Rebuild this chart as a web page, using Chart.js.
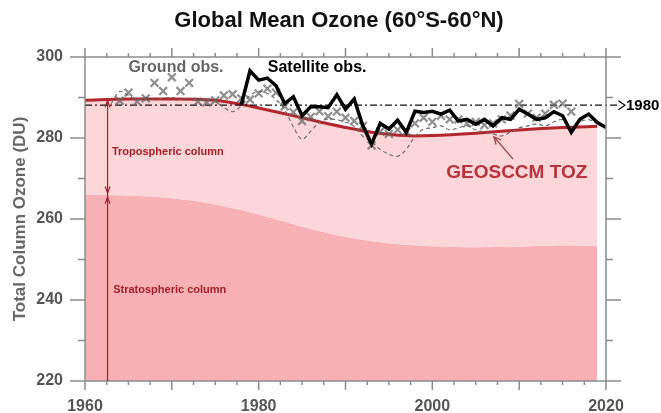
<!DOCTYPE html>
<html>
<head>
<meta charset="utf-8">
<script src="https://cdn.jsdelivr.net/npm/chart.js@4.4.1/dist/chart.umd.min.js"></script>
<style>
  html, body { margin: 0; padding: 0; background: #fff; }
  canvas { display: block; }
</style>
</head>
<body>
<canvas id="ozone" width="661" height="413"></canvas>
<script>
const FONT = "'Liberation Sans', Arial, Helvetica, sans-serif";
const AXIS = "#8c8c8c";

/* x / y tick labels */
const xTicks = [1960, 1980, 2000, 2020];
const yTicks = [220, 240, 260, 280, 300];

/* GEOSCCM model: stratospheric column and total column (TOZ) */
const modelYears = [1960, 1965, 1970, 1975, 1978, 1980, 1983, 1985, 1988, 1990, 1993, 1995, 1998, 2000, 2005, 2010, 2015, 2019];
const stratCol   = [266.0, 265.8, 265.1, 263.6, 262.2, 261.1, 259.3, 258.1, 256.5, 255.6, 254.5, 254.0, 253.5, 253.3, 253.0, 253.2, 253.5, 253.4];
const totalToz   = [289.3, 289.6, 289.6, 289.3, 288.3, 287.4, 286.0, 285.0, 283.5, 282.6, 281.4, 280.9, 280.5, 280.6, 281.2, 282.0, 282.6, 282.9];

/* 1980 reference level */
const ref1980 = 288.1;

/* satellite observations */
const satYears = [1978, 1979, 1980, 1981, 1982, 1983, 1984, 1985, 1986, 1987, 1988, 1989, 1990, 1991, 1992, 1993, 1994, 1995, 1996, 1997, 1998, 1999,
                  2000, 2001, 2002, 2003, 2004, 2005, 2006, 2007, 2008, 2009, 2010, 2011, 2012, 2013, 2014, 2015, 2016, 2017, 2018, 2019, 2020];
const satObs   = [288.2, 296.6, 294.3, 294.8, 292.9, 288.5, 290.2, 285.5, 287.7, 287.7, 287.5, 290.7, 287.1, 289.6, 283.0, 278.5, 283.6, 282.2, 284.4, 281.4, 286.6, 286.3,
                  286.6, 285.9, 286.9, 284.2, 284.6, 283.4, 284.6, 283.0, 285.0, 284.6, 287.1, 285.9, 284.6, 285.0, 286.5, 285.5, 281.4, 284.6, 285.9, 283.8, 282.6];

/* ground-based observations (x markers) */
const groundYears = [1964, 1965, 1966, 1967, 1968, 1969, 1970, 1971, 1972, 1973, 1974, 1975, 1976, 1977, 1978, 1979, 1980, 1981, 1982, 1983, 1984, 1985, 1986, 1987, 1988, 1989, 1990,
                     1991, 1992, 1993, 1994, 1995, 1996, 1997, 1998, 1999, 2000, 2001, 2002, 2003, 2004, 2005, 2006, 2007, 2008, 2009, 2010, 2011, 2012, 2013, 2014, 2015, 2016];
const groundObs   = [289.2, 291.2, 289.0, 289.8, 293.6, 291.6, 295.0, 291.6, 293.6, 289.0, 288.8, 289.3, 290.5, 290.8, 289.8, 289.5, 291.0, 292.2, 291.2, 287.8, 286.4, 284.2, 285.2, 286.6, 285.4, 286.5, 285.0,
                     284.2, 283.0, 278.2, 281.6, 281.0, 282.0, 281.6, 283.6, 285.0, 284.0, 285.5, 284.6, 284.6, 283.6, 284.0, 283.2, 283.6, 284.6, 285.5, 288.4, 286.0, 285.0, 286.0, 288.2, 288.5, 286.5];

/* dashed series */
const dashYears = [1963, 1964, 1965, 1966, 1967, 1968, 1969, 1970, 1971, 1972, 1973, 1974, 1975, 1976, 1977, 1978, 1979, 1980, 1981, 1982, 1983, 1984, 1985, 1986, 1987, 1988, 1989, 1990, 1991,
                   1992, 1993, 1994, 1995, 1996, 1997, 1998, 1999, 2000, 2001, 2002, 2003, 2004, 2005, 2006, 2007, 2008, 2009, 2010, 2011, 2012, 2013, 2014, 2015, 2016, 2017, 2018, 2019];
const dashVals  = [288.5, 291.5, 290.5, 289.5, 290.0, 289.5, 289.8, 290.0, 289.5, 289.8, 289.3, 289.6, 289.0, 287.5, 286.5, 288.0, 290.5, 291.5, 291.0, 289.5, 287.0, 282.7, 279.7, 281.7, 283.9, 284.7, 284.5, 283.9, 282.9,
                   280.4, 279.0, 277.2, 276.0, 275.5, 277.2, 280.4, 282.2, 282.5, 283.0, 282.0, 282.5, 283.0, 282.0, 281.5, 281.0, 280.5, 281.5, 282.5, 283.0, 283.5, 283.0, 284.0, 284.5, 282.5, 284.0, 284.5, 283.5];

function pts(xs, ys) {
    return xs.map((x, i) => ({ x: x, y: ys[i] }));
}

function interp(xs, ys, v) {
    for (let i = 1; i < xs.length; i++) {
        if (v <= xs[i]) {
            const t = (v - xs[i - 1]) / (xs[i] - xs[i - 1]);
            return ys[i - 1] + t * (ys[i] - ys[i - 1]);
        }
    }
    return ys[ys.length - 1];
}

function arrowHead(ctx, x, y, ang, len, spread) {
    ctx.beginPath();
    ctx.moveTo(x + len * Math.cos(ang + Math.PI - spread), y + len * Math.sin(ang + Math.PI - spread));
    ctx.lineTo(x, y);
    ctx.lineTo(x + len * Math.cos(ang + Math.PI + spread), y + len * Math.sin(ang + Math.PI + spread));
    ctx.stroke();
}

/* frame with outward ticks on all four sides */
const framePlugin = {
    id: "frame",
    afterDraw(chart) {
        const { ctx, chartArea: a, scales: { x, y } } = chart;
        ctx.save();
        ctx.strokeStyle = AXIS;
        ctx.lineWidth = 1.5;
        ctx.strokeRect(a.left, a.top, a.right - a.left, a.bottom - a.top);
        ctx.beginPath();
        for (let v = 1960; v <= 2020; v += 2.5) {
            const px = x.getPixelForValue(v);
            const len = v % 10 === 0 ? 9 : 4;
            ctx.moveTo(px, a.bottom); ctx.lineTo(px, a.bottom + len);
            ctx.moveTo(px, a.top); ctx.lineTo(px, a.top - len);
        }
        for (let v = 220; v <= 300; v += 10) {
            const py = y.getPixelForValue(v);
            const len = v % 20 === 0 ? 15 : 7;
            ctx.moveTo(a.left, py); ctx.lineTo(a.left - len, py);
            ctx.moveTo(a.right, py); ctx.lineTo(a.right + len, py);
        }
        ctx.stroke();
        ctx.restore();
    }
};

/* title, labels and arrows */
const notesPlugin = {
    id: "notes",
    afterDraw(chart) {
        const { ctx, scales: { x, y } } = chart;
        ctx.save();
        ctx.textBaseline = "middle";

        ctx.fillStyle = "#111";
        ctx.textAlign = "center";
        ctx.font = "bold 22px " + FONT;
        ctx.fillText("Global Mean Ozone (60°S-60°N)", 339, 21);

        ctx.textAlign = "left";
        ctx.font = "bold 16px " + FONT;
        ctx.fillStyle = "#666";
        ctx.fillText("Ground obs.", x.getPixelForValue(1965), y.getPixelForValue(297.5));
        ctx.fillStyle = "#000";
        ctx.fillText("Satellite obs.", x.getPixelForValue(1981.05), y.getPixelForValue(297.5));

        ctx.fillStyle = "#a3202a";
        ctx.font = "bold 11px " + FONT;
        ctx.fillText("Tropospheric column", x.getPixelForValue(1963.1), y.getPixelForValue(276.6));
        ctx.fillText("Stratospheric column", x.getPixelForValue(1963.25), y.getPixelForValue(242.6));

        ctx.fillStyle = "#b8323a";
        ctx.font = "bold 19px " + FONT;
        ctx.fillText("GEOSCCM TOZ", x.getPixelForValue(2001.6), y.getPixelForValue(271.5));

        // pointer from label to the TOZ curve
        ctx.strokeStyle = "#9a454b";
        ctx.lineWidth = 1.3;
        const tx = x.getPixelForValue(2007.1), ty = y.getPixelForValue(280.3);
        const sx = x.getPixelForValue(2009.3), sy = y.getPixelForValue(274.8);
        ctx.beginPath(); ctx.moveTo(sx, sy); ctx.lineTo(tx, ty); ctx.stroke();
        arrowHead(ctx, tx, ty, Math.atan2(ty - sy, tx - sx), 8, 0.45);

        // column arrows
        const ax = x.getPixelForValue(1962.6);
        const yTop = y.getPixelForValue(interp(modelYears, totalToz, 1962.6));
        const yMid = y.getPixelForValue(interp(modelYears, stratCol, 1962.6));
        const yBot = y.getPixelForValue(220);
        ctx.strokeStyle = "#a3202a";
        ctx.lineWidth = 1.2;
        ctx.beginPath(); ctx.moveTo(ax, yBot); ctx.lineTo(ax, yTop + 1); ctx.stroke();
        arrowHead(ctx, ax, yTop + 1, -Math.PI / 2, 7, 0.35);
        arrowHead(ctx, ax, yMid - 2, Math.PI / 2, 7, 0.35);
        arrowHead(ctx, ax, yMid + 2, -Math.PI / 2, 7, 0.35);

        // 1980 reference marker
        const ry = y.getPixelForValue(ref1980);
        const tip = x.getPixelForValue(2020) + 19;
        ctx.strokeStyle = "#000";
        ctx.lineWidth = 1.2;
        arrowHead(ctx, tip, ry, 0, 8, 0.6);
        ctx.fillStyle = "#000";
        ctx.font = "bold 15px " + FONT;
        ctx.fillText("1980", tip + 1, ry + 1);
        ctx.restore();
    }
};

new Chart(document.getElementById("ozone"), {
    type: "line",
    data: {
        datasets: [
            {
                label: "Stratospheric column",
                data: pts(modelYears, stratCol),
                borderWidth: 0,
                pointRadius: 0,
                fill: "start",
                backgroundColor: "#f7b0b4",
                cubicInterpolationMode: "monotone",
                order: 9,
            },
            {
                label: "GEOSCCM TOZ",
                data: pts(modelYears, totalToz),
                borderColor: "#b3262e",
                borderWidth: 3,
                pointRadius: 0,
                fill: "-1",
                backgroundColor: "#fcd6d8",
                cubicInterpolationMode: "monotone",
                order: 8,
            },
            {
                label: "1980 level",
                data: [{ x: 1960, y: ref1980 }, { x: 2021.6, y: ref1980 }],
                borderColor: "#111",
                borderWidth: 1.2,
                borderDash: [7, 3, 2, 3],
                pointRadius: 0,
                fill: false,
                clip: false,
                order: 7,
            },
            {
                label: "Dashed",
                data: pts(dashYears, dashVals),
                borderColor: "#666",
                borderWidth: 1.1,
                borderDash: [4, 3],
                pointRadius: 0,
                fill: false,
                tension: 0.35,
                order: 6,
            },
            {
                label: "Ground obs.",
                data: pts(groundYears, groundObs),
                showLine: false,
                pointStyle: "crossRot",
                pointRadius: 5.5,
                pointBorderWidth: 2.2,
                pointBorderColor: "rgba(100,100,100,0.72)",
                order: 5,
            },
            {
                label: "Satellite obs.",
                data: pts(satYears, satObs),
                borderColor: "#000",
                borderWidth: 3.5,
                borderJoinStyle: "miter",
                pointRadius: 0,
                fill: false,
                tension: 0,
                order: 1,
            },
        ],
    },
    options: {
        responsive: false,
        animation: false,
        devicePixelRatio: 1,
        layout: { padding: { top: 57, right: 55, left: 0, bottom: 0 } },
        plugins: {
            legend: { display: false },
            tooltip: { enabled: false },
            title: { display: false },
        },
        scales: {
            x: {
                type: "linear",
                min: 1960,
                max: 2020,
                afterFit(scale) { scale.height = 32; },
                afterBuildTicks(scale) { scale.ticks = xTicks.map((v) => ({ value: v })); },
                grid: { display: false, drawTicks: false },
                border: { display: false },
                ticks: {
                    padding: 16,
                    color: "#555",
                    font: { family: FONT, weight: "bold", size: 16 },
                    callback: (v) => String(v),
                },
            },
            y: {
                min: 220,
                max: 300,
                afterFit(scale) { scale.width = 85; },
                afterBuildTicks(scale) { scale.ticks = yTicks.map((v) => ({ value: v })); },
                grid: { display: false, drawTicks: false },
                border: { display: false },
                ticks: {
                    padding: 22,
                    color: "#555",
                    font: { family: FONT, weight: "bold", size: 16 },
                    callback: (v) => String(v),
                },
                title: {
                    display: true,
                    text: "Total Column Ozone (DU)",
                    color: "#666",
                    padding: { top: 10 },
                    font: { family: FONT, weight: "bold", size: 17 },
                },
            },
        },
    },
    plugins: [framePlugin, notesPlugin],
});
</script>
</body>
</html>
